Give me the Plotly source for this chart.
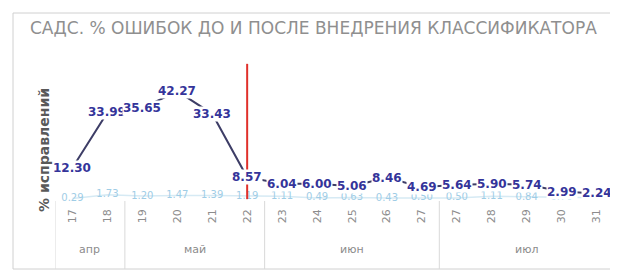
import plotly.graph_objects as go

months = ["апр", "апр", "май", "май", "май", "май",
          "июн", "июн", "июн", "июн", "июн",
          "июл", "июл", "июл", "июл", "июл"]
weeks = ["17", "18", "19", "20", "21", "22",
         "23", "24", "25", "26", "27",
         "27", "28", "29", "30", "31"]
before_after = [12.30, 33.99, 35.65, 42.27, 33.43, 8.57,
                6.04, 6.00, 5.06, 8.46, 4.69,
                5.64, 5.90, 5.74, 2.99, 2.24]
second_series = [0.29, 1.73, 1.20, 1.47, 1.39, 1.19,
                 1.11, 0.49, 0.63, 0.43, 0.50,
                 0.50, 1.11, 0.84, 0.70, 0.52]
marker_week_index = 5  # классификатор внедрён (неделя 22)
title_text = "САДС. % ОШИБОК ДО И ПОСЛЕ ВНЕДРЕНИЯ КЛАССИФИКАТОРА"
y_title = "% исправлений"

OFF = 8  # page body margin
W, H = 618 - OFF, 271 - OFF
L, R, T, B = 55 - OFF, 4, 60 - OFF, 271 - 203
pw, ph = W - L - R, H - T - B
y_lo, y_hi = -1.5, 53.0

def px_x(p):  # reference pixel -> paper x
    return (p - OFF - L) / pw

def px_y(p):  # reference pixel -> paper y
    return (H - B - (p - OFF)) / ph

pos = list(range(len(weeks)))

fig = go.Figure()
fig.add_trace(go.Scatter(
    x=pos, y=second_series, mode="lines+text",
    line=dict(color="#d6eaf4", width=1.5),
    text=[f"{v:.2f}" for v in second_series],
    textposition="middle center",
    textfont=dict(family="DejaVu Sans", size=10, color="#9fcde6"),
    hoverinfo="skip", showlegend=False, cliponaxis=False,
))
fig.add_trace(go.Scatter(
    x=pos, y=before_after, mode="lines",
    line=dict(color="#3d3d66", width=2),
    hoverinfo="skip", showlegend=False,
))

annotations = []
for i, v in enumerate(before_after):
    annotations.append(dict(
        x=i, y=v, xref="x", yref="y", text=f"{v:.2f}", showarrow=False,
        bgcolor="white", borderpad=0,
        font=dict(family="DejaVu Sans", size=12, color="#34349a", weight="bold"),
    ))

annotations.append(dict(
    x=px_x(44), y=px_y(150), xref="paper", yref="paper", text=y_title,
    xanchor="center", yanchor="middle",
    textangle=-90, showarrow=False,
    font=dict(family="DejaVu Sans", size=14, color="#595959", weight="bold"),
))

# month group labels and dividers
groups = []
for i, m in enumerate(months):
    if not groups or groups[-1][0] != m:
        groups.append([m, i, i])
    else:
        groups[-1][2] = i

shapes = []
for m, a, b in groups:
    annotations.append(dict(
        x=(a + b) / 2, y=px_y(258), xref="x", yref="paper", text=m,
        showarrow=False,
        font=dict(family="DejaVu Sans", size=11, color="#8c8c8c"),
    ))
    shapes.append(dict(type="line", xref="x", yref="paper",
                       x0=a - 0.5, x1=a - 0.5, y0=px_y(201), y1=px_y(269),
                       line=dict(color="#d9d9d9", width=1)))
shapes.append(dict(type="line", xref="x", yref="paper",
                   x0=groups[-1][2] + 0.5, x1=groups[-1][2] + 0.5,
                   y0=px_y(201), y1=px_y(269),
                   line=dict(color="#d9d9d9", width=1)))

shapes += [
    dict(type="line", xref="x", yref="y", x0=marker_week_index, x1=marker_week_index,
         y0=0, y1=y_hi, line=dict(color="#e0302a", width=2)),
    dict(type="rect", xref="paper", yref="paper",
         x0=px_x(13), x1=px_x(617), y0=px_y(269), y1=px_y(13),
         line=dict(color="#d0d0d0", width=1), layer="below"),
]

fig.update_layout(
    width=W, height=H, autosize=False,
    margin=dict(l=L, r=R, t=T, b=B, autoexpand=False),
    paper_bgcolor="white", plot_bgcolor="white",
    title=dict(text=title_text, x=(30 - OFF) / W, xanchor="left", xref="container",
               y=1 - (28 - OFF) / H, yanchor="middle", yref="container",
               font=dict(family="DejaVu Sans", size=17, color="#8f8f8f")),
    xaxis=dict(tickmode="array", tickvals=pos, ticktext=weeks, tickangle=-90,
               range=[-0.5, len(weeks) - 0.5], automargin=False,
               ticklabelstandoff=3,
               tickfont=dict(family="DejaVu Sans", size=11, color="#8c8c8c"),
               showgrid=False, zeroline=False, showline=False, ticks=""),
    yaxis=dict(range=[y_lo, y_hi + 1.5], showticklabels=False, showgrid=False,
               zeroline=False, showline=False, ticks="", automargin=False),
    annotations=annotations,
    shapes=shapes,
)

fig.write_html("out.html")
